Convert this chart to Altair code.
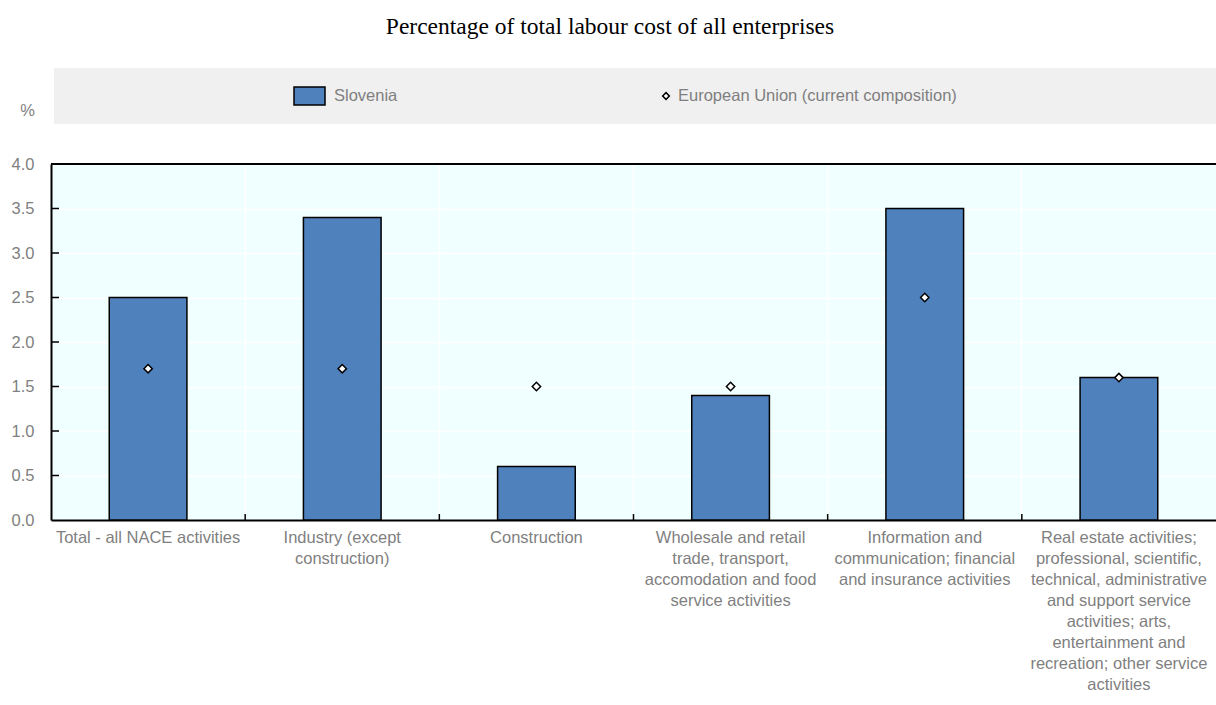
import altair as alt
import pandas as pd

categories = [
    "Total - all NACE activities",
    "Industry (except construction)",
    "Construction",
    "Wholesale and retail trade, transport, accomodation and food service activities",
    "Information and communication; financial and insurance activities",
    "Real estate activities; professional, scientific, technical, administrative and support service activities; arts, entertainment and recreation; other service activities",
]
label_lines = [
    ["Total - all NACE activities"],
    ["Industry (except", "construction)"],
    ["Construction"],
    ["Wholesale and retail", "trade, transport,", "accomodation and food", "service activities"],
    ["Information and", "communication; financial", "and insurance activities"],
    ["Real estate activities;", "professional, scientific,", "technical, administrative",
     "and support service", "activities; arts,", "entertainment and",
     "recreation; other service", "activities"],
]
slovenia = [2.5, 3.4, 0.6, 1.4, 3.5, 1.6]
eu = [1.7, 1.7, 1.5, 1.5, 2.5, 1.6]
y_ticks = [0.0, 0.5, 1.0, 1.5, 2.0, 2.5, 3.0, 3.5, 4.0]
title_text = "Percentage of total labour cost of all enterprises"
legend_labels = ["Slovenia", "European Union (current composition)"]

FONT = "Liberation Sans, Arial"
FS = 16.5
GRAY = "#7f7f7f"
W, H = 1165, 356
LEFT, TOP = 51, 164

wrapped = ["|".join(l) for l in label_lines]
df = pd.DataFrame({"cat": wrapped, "Slovenia": slovenia, "EU": eu})
order = wrapped

xenc = alt.X("cat:N", sort=order,
             scale=alt.Scale(paddingInner=0, paddingOuter=0),
             axis=alt.Axis(title=None, labelAngle=0, labelExpr="split(datum.label, '|')",
                           labelFont=FONT, labelFontSize=FS, labelColor=GRAY,
                           labelLineHeight=21, labelPadding=9, ticks=False,
                           domainColor="#000", domainWidth=2,
                           grid=True, gridColor="#ffffff", gridWidth=1.5,
                           bandPosition=0, labelLimit=400))
yscale = alt.Scale(domain=[0, 4])

base = alt.Chart(df)
bars = base.mark_bar(width=alt.RelativeBandSize(0.4), color="#4F81BD",
                     stroke="#000", strokeWidth=1.5).encode(
    x=xenc,
    y=alt.Y("Slovenia:Q", scale=yscale,
            axis=alt.Axis(values=y_ticks, format=".1f", title="%", titleAngle=0,
                          titleX=-24, titleY=-54, titleAlign="center",
                          titleBaseline="middle", titleFont=FONT, titleFontSize=FS,
                          titleFontWeight="normal", titleColor=GRAY,
                          labelFont=FONT, labelFontSize=FS, labelColor=GRAY,
                          labelPadding=17, ticks=False, domainColor="#000",
                          domainWidth=2, grid=True, gridColor="#ffffff",
                          gridWidth=1.5)),
)
points = base.mark_point(shape="diamond", filled=True, fill="#ffffff", stroke="#000",
                         strokeWidth=1.5, size=70, opacity=1).encode(
    x=alt.X("cat:N", sort=order), y=alt.Y("EU:Q", scale=yscale))

ytick_df = pd.DataFrame({"v": y_ticks[1:-1]})
yticks = alt.Chart(ytick_df).mark_rule(color="#000", strokeWidth=1.5).encode(
    y=alt.Y("v:Q", scale=yscale), x=alt.value(0), x2=alt.value(8))

xtick_df = pd.DataFrame({"cat": wrapped[1:]})
xticks = alt.Chart(xtick_df).mark_rule(color="#000", strokeWidth=1.5).encode(
    x=alt.X("cat:N", sort=order, bandPosition=0), y=alt.value(H), y2=alt.value(H - 6))

top_border = alt.Chart(pd.DataFrame({"v": [y_ticks[-1]]})).mark_rule(
    color="#000", strokeWidth=2).encode(
    y=alt.Y("v:Q", scale=yscale), x=alt.value(0), x2=alt.value(W + 5))

# title
title = alt.Chart(pd.DataFrame({"t": [title_text]})).mark_text(
    font="Liberation Serif, Times New Roman, serif", fontSize=23.5, color="#000",
    align="center", baseline="middle").encode(
    text="t:N", x=alt.value(610 - LEFT), y=alt.value(27 - TOP))

# legend
leg_box = alt.Chart(pd.DataFrame({"a": [0]})).mark_rect(color="#f0f0f0").encode(
    x=alt.value(54 - LEFT), x2=alt.value(W + 10), y=alt.value(68 - TOP), y2=alt.value(124 - TOP))
leg_swatch = alt.Chart(pd.DataFrame({"a": [0]})).mark_rect(
    color="#4F81BD", stroke="#000", strokeWidth=1.5).encode(
    x=alt.value(294 - LEFT), x2=alt.value(325 - LEFT), y=alt.value(87 - TOP), y2=alt.value(105 - TOP))
leg_diamond = alt.Chart(pd.DataFrame({"a": [0]})).mark_point(
    shape="diamond", filled=True, fill="#fff", stroke="#000", strokeWidth=1.5,
    size=45, opacity=1).encode(x=alt.value(666 - LEFT), y=alt.value(96 - TOP))
leg_text = alt.Chart(pd.DataFrame({"t": legend_labels,
                                   "px": [334 - LEFT, 678 - LEFT]})).mark_text(
    align="left", baseline="middle", font=FONT, fontSize=FS, color=GRAY).encode(
    text="t:N", x=alt.X("px:Q", scale=None), y=alt.value(96 - TOP))

chart = alt.layer(title, leg_box, leg_swatch, leg_diamond, leg_text, bars, points,
                  yticks, xticks, top_border).properties(
    width=W, height=H,
    padding={"left": LEFT, "top": TOP, "right": 0, "bottom": 705 - TOP - H},
    autosize=alt.AutoSizeParams(type="none"),
    background="#ffffff",
).configure_view(fill="#F0FFFF", strokeWidth=0)

chart.save("out.html", embed_options={"renderer": "svg", "actions": False})
